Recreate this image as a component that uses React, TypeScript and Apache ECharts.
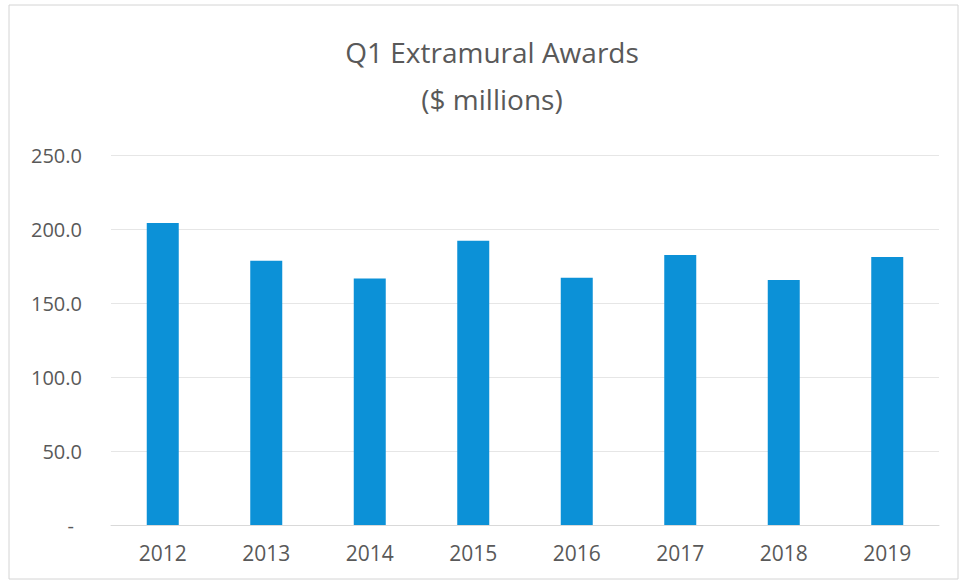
import React, { useEffect, useRef } from "react";
import * as echarts from "echarts";

const years = ["2012", "2013", "2014", "2015", "2016", "2017", "2018", "2019"];
const awards = [204.0, 178.5, 166.5, 192.0, 167.0, 182.5, 165.5, 181.0];
const titleLines = ["Q1 Extramural Awards", "($ millions)"];

export default function App() {
  const ref = useRef<HTMLDivElement>(null);
  useEffect(() => {
    document.body.style.margin = "0";
    const chart = echarts.init(ref.current!, null, { renderer: "svg" });
    const font = "'Open Sans', sans-serif";
    chart.setOption({
      animation: false,
      backgroundColor: "#ffffff",
      title: {
        text: titleLines.join("\n"),
        left: 487,
        top: 23,
        textAlign: "center",
        textStyle: {
          fontFamily: font,
          fontSize: 28,
          fontWeight: "normal",
          color: "#595959",
          lineHeight: 47,
        },
      },
      graphic: [
        {
          type: "rect",
          shape: { x: 9, y: 5, width: 949, height: 574 },
          style: { fill: "none", stroke: "#d4d4d4", lineWidth: 1 },
          silent: true,
        },
      ],
      grid: { left: 111, right: 22, top: 155, bottom: 57 },
      xAxis: {
        type: "category",
        data: years,
        axisTick: { show: false },
        axisLine: { lineStyle: { color: "#d9d9d9" } },
        axisLabel: {
          fontFamily: font,
          fontSize: 21,
          color: "#595959",
          margin: 17,
        },
      },
      yAxis: {
        type: "value",
        min: 0,
        max: 250,
        interval: 50,
        axisLine: { show: false },
        axisTick: { show: false },
        splitLine: { lineStyle: { color: "#e6e6e6" } },
        axisLabel: {
          fontFamily: font,
          fontSize: 20,
          color: "#595959",
          margin: 29,
          formatter: (v: number) => (v === 0 ? "{d|-}" : v.toFixed(1)),
          rich: { d: { fontFamily: font, fontSize: 20, color: "#595959", padding: [0, 8, 0, 0] } },
        },
      },
      series: [
        {
          type: "bar",
          data: awards,
          barWidth: 32,
          itemStyle: { color: "#0c91d7" },
        },
      ],
    });
    return () => chart.dispose();
  }, []);
  return <div ref={ref} style={{ width: 961, height: 582 }} />;
}
